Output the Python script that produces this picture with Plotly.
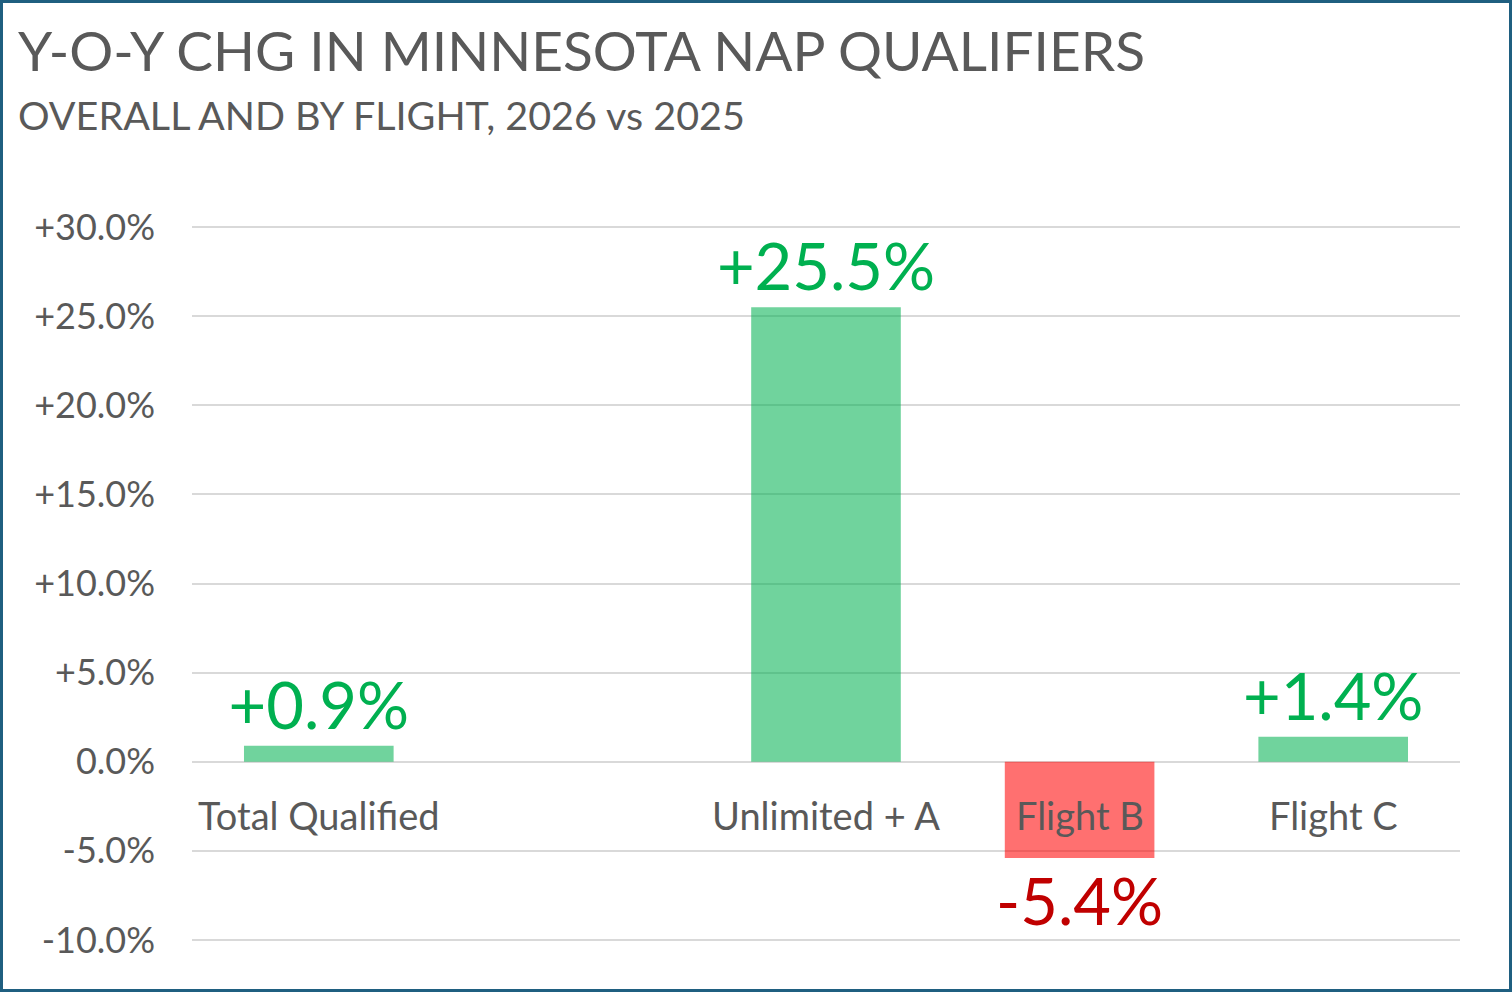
import plotly.graph_objects as go

# chart data
categories = ["Total Qualified", "", "Unlimited + A", "Flight B", "Flight C"]
yoy_change = [0.9, None, 25.5, -5.4, 1.4]
labels = ["+0.9%", "", "+25.5%", "-5.4%", "+1.4%"]
tick_values = [-10, -5, 0, 5, 10, 15, 20, 25, 30]
tick_labels = ["-10.0%", "-5.0%", "0.0%", "+5.0%", "+10.0%", "+15.0%", "+20.0%", "+25.0%", "+30.0%"]

FONT = "Lato"
GRAY = "#595959"
GREEN = "#00B050"
RED = "#C00000"

x_pos = list(range(len(categories)))
bar_colors = []
text_colors = []
for v in yoy_change:
    if v is not None and v < 0:
        bar_colors.append("rgba(255,0,0,0.56)")
        text_colors.append(RED)
    else:
        bar_colors.append("rgba(0,176,80,0.56)")
        text_colors.append(GREEN)

fig = go.Figure()
fig.add_trace(go.Bar(
    x=x_pos, y=yoy_change,
    marker=dict(color=bar_colors, line=dict(width=0)),
    text=labels, textposition="outside", constraintext="none",
    textfont=dict(family=FONT, size=65, color=text_colors),
    cliponaxis=False, hoverinfo="skip",
))

# category labels sit just under the zero line, like excel does
for i, name in enumerate(categories):
    if name:
        fig.add_annotation(x=i, y=0, xref="x", yref="y", text=name,
                           showarrow=False, yanchor="top", yshift=-28,
                           font=dict(family=FONT, size=38, color=GRAY))

# plot area: +30% sits at y=227px, -10% at y=940px (range padded a hair so
# the end gridlines still get drawn)
L, R, T, B = 192, 52, 226, 51
W, H = 1512, 992
pw, ph = W - L - R, H - T - B


def px_x(p):
    return (p - L) / pw


def px_y(p):
    return (H - B - p) / ph


fig.add_annotation(x=px_x(16), y=px_y(15), xref="paper", yref="paper",
                   xanchor="left", yanchor="top", showarrow=False,
                   text="Y-O-Y CHG IN MINNESOTA NAP QUALIFIERS",
                   font=dict(family=FONT, size=55, color=GRAY))
fig.add_annotation(x=px_x(16), y=px_y(89), xref="paper", yref="paper",
                   xanchor="left", yanchor="top", showarrow=False,
                   text="OVERALL AND BY FLIGHT, 2026 vs 2025",
                   font=dict(family=FONT, size=39.5, color=GRAY))

# outer border
fig.add_shape(type="rect", xref="paper", yref="paper",
              x0=px_x(1.5), x1=px_x(W - 1.5), y0=px_y(H - 1.5), y1=px_y(1.5),
              line=dict(color="#1F5F80", width=3))

fig.update_layout(
    width=W, height=H,
    margin=dict(l=L, r=R, t=T, b=B),
    paper_bgcolor="white", plot_bgcolor="white",
    bargap=0.41, showlegend=False,
    font=dict(family=FONT, color=GRAY),
)
fig.update_xaxes(range=[-0.5, len(categories) - 0.5], showticklabels=False,
                 showgrid=False, zeroline=False, showline=False, ticks="")
fig.update_yaxes(range=[-10.06, 30.06], tickvals=tick_values, ticktext=tick_labels,
                 showgrid=True, gridcolor="#D9D9D9", gridwidth=2,
                 zeroline=True, zerolinecolor="#D9D9D9", zerolinewidth=2,
                 ticklabelstandoff=36, tickfont=dict(family=FONT, size=36, color=GRAY))

# drop the default page margin so the chart fills the window
fig.write_html("out.html", config={"displayModeBar": False},
               post_script="document.body.style.margin='0';")
